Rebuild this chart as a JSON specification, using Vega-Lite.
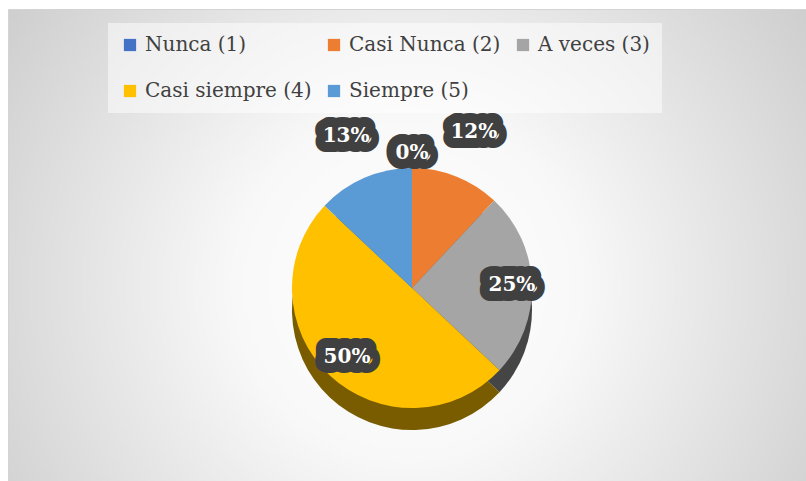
{
  "$schema": "https://vega.github.io/schema/vega-lite/v6.json",
  "width": 806,
  "height": 481,
  "autosize": {"type": "fit", "contains": "padding"},
  "padding": {"left": 8, "top": 9, "right": 0, "bottom": 0},
  "background": "#ffffff",
  "view": {
    "stroke": "#d4d4d4",
    "fill": {
      "gradient": "radial",
      "x1": 0.5, "y1": 0.55, "x2": 0.5, "y2": 0.55,
      "r1": 0, "r2": 0.72,
      "stops": [
        {"offset": 0, "color": "#ffffff"},
        {"offset": 0.3, "color": "#f8f8f8"},
        {"offset": 1, "color": "#c2c2c2"}
      ]
    }
  },
  "config": {
    "font": "DejaVu Serif"
  },
  "data": {
    "values": [
      {"categoria": "Nunca (1)", "codigo": 1, "valor": 0},
      {"categoria": "Casi Nunca (2)", "codigo": 2, "valor": 0.12},
      {"categoria": "A veces (3)", "codigo": 3, "valor": 0.25},
      {"categoria": "Casi siempre (4)", "codigo": 4, "valor": 0.5},
      {"categoria": "Siempre (5)", "codigo": 5, "valor": 0.13}
    ]
  },
  "encoding": {
    "theta": {"field": "valor", "type": "quantitative", "stack": true},
    "order": {"field": "codigo", "type": "quantitative", "sort": "ascending"}
  },
  "layer": [
    {
      "mark": {"type": "arc", "outerRadius": 120, "xOffset": 5, "yOffset": 65},
      "encoding": {
        "color": {
          "field": "categoria", "type": "nominal", "legend": null,
          "scale": {
            "domain": ["Nunca (1)", "Casi Nunca (2)", "A veces (3)", "Casi siempre (4)", "Siempre (5)"],
            "range": ["#2a4a80", "#9a4f1c", "#454545", "#7a5c00", "#3a6690"]
          }
        }
      }
    },
    {
      "mark": {"type": "arc", "outerRadius": 120, "xOffset": 5, "yOffset": 43},
      "encoding": {
        "color": {
          "field": "categoria", "type": "nominal",
          "scale": {
            "domain": ["Nunca (1)", "Casi Nunca (2)", "A veces (3)", "Casi siempre (4)", "Siempre (5)"],
            "range": ["#4472C4", "#ED7D31", "#A5A5A5", "#FFC000", "#5B9BD5"]
          },
          "legend": {
            "title": null,
            "orient": "none",
            "legendX": 100,
            "legendY": 14,
            "direction": "horizontal",
            "columns": 3,
            "gridAlign": "each",
            "columnPadding": 12,
            "rowPadding": 26,
            "padding": 12,
            "fillColor": "rgba(255,255,255,0.5)",
            "symbolType": "square",
            "symbolSize": 150,
            "symbolStrokeWidth": 0,
            "labelFont": "DejaVu Serif",
            "labelFontSize": 20,
            "labelColor": "#404040",
            "labelOffset": 5,
            "labelLimit": 400
          }
        }
      }
    },
    {
      "mark": {
        "type": "text", "xOffset": 5, "yOffset": 43,
        "font": "DejaVu Serif", "fontWeight": "bold", "fontSize": 20,
        "fill": "#404040", "stroke": "#404040", "strokeWidth": 20,
        "strokeJoin": "round"
      },
      "encoding": {
        "radius": {
          "field": "valor", "type": "quantitative",
          "scale": {"type": "linear", "zero": false, "domain": [0, 0.12, 0.13, 0.25, 0.5], "range": [135, 168, 166, 100, 95]}
        },
        "text": {"field": "valor", "type": "quantitative", "format": ".0%"}
      }
    },
    {
      "mark": {
        "type": "text", "xOffset": 5, "yOffset": 43,
        "font": "DejaVu Serif", "fontWeight": "bold", "fontSize": 20,
        "fill": "#ffffff"
      },
      "encoding": {
        "radius": {
          "field": "valor", "type": "quantitative",
          "scale": {"type": "linear", "zero": false, "domain": [0, 0.12, 0.13, 0.25, 0.5], "range": [135, 168, 166, 100, 95]}
        },
        "text": {"field": "valor", "type": "quantitative", "format": ".0%"}
      }
    }
  ],
  "resolve": {"scale": {"color": "independent"}}
}
